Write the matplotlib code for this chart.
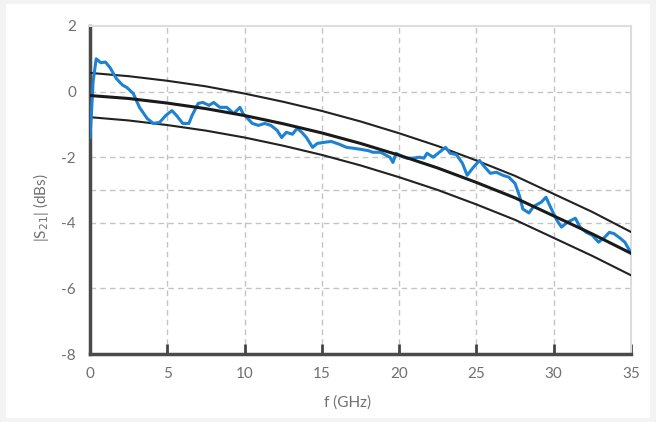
#!/usr/bin/env python3
"""|S21| vs frequency: measured trace with nominal curve and tolerance bounds."""

import matplotlib.pyplot as plt
from matplotlib.patches import Rectangle

# nominal model and +/- bounds, read every 2.5 GHz
f_model = [0, 2.5, 5, 7.5, 10, 12.5, 15, 17.5, 20, 22.5, 25, 27.5, 30, 32.5, 35]
s21_nominal = [-0.12, -0.21, -0.35, -0.52, -0.73, -0.98, -1.26, -1.58, -1.94, -2.33,
               -2.77, -3.24, -3.79, -4.34, -4.93]
s21_upper = [0.57, 0.47, 0.33, 0.16, -0.06, -0.31, -0.59, -0.91, -1.27, -1.66,
             -2.10, -2.57, -3.12, -3.67, -4.28]
s21_lower = [-0.78, -0.88, -1.02, -1.19, -1.40, -1.65, -1.93, -2.25, -2.61, -3.00,
             -3.44, -3.91, -4.46, -5.01, -5.60]

# measured trace
f_meas = [0.0, 0.1, 0.2, 0.4, 0.7, 1.0, 1.3, 1.7, 2.1, 2.4, 2.8, 3.2, 3.7, 4.1, 4.5,
          4.9, 5.3, 5.6, 6.0, 6.4, 6.6, 7.0, 7.3, 7.7, 8.0, 8.4, 8.85, 9.3, 9.7, 9.9,
          10.2, 10.5, 10.9, 11.3, 11.7, 12.1, 12.4, 12.7, 13.1, 13.4, 13.7, 14.0, 14.4,
          14.7, 15.1, 15.6, 16.1, 16.6, 17.1, 17.5, 18.0, 18.3, 18.8, 19.4, 19.6, 19.8,
          20.2, 20.5, 20.9, 21.3, 21.6, 21.8, 22.2, 22.6, 23.0, 23.3, 23.7, 24.1, 24.4,
          24.8, 25.2, 25.5, 25.9, 26.3, 26.7, 27.1, 27.5, 27.8, 28.0, 28.4, 28.7, 29.2,
          29.5, 29.8, 30.2, 30.5, 30.9, 31.4, 31.7, 32.1, 32.5, 32.9, 33.3, 33.6, 33.9,
          34.3, 34.6, 35.0]
s21_meas = [-1.40, -0.60, 0.30, 1.00, 0.88, 0.90, 0.73, 0.40, 0.20, 0.12, -0.06, -0.48,
            -0.82, -0.97, -0.94, -0.73, -0.58, -0.73, -0.97, -0.97, -0.73, -0.36, -0.33,
            -0.42, -0.33, -0.48, -0.48, -0.67, -0.48, -0.67, -0.82, -0.97, -1.03, -0.97,
            -1.03, -1.18, -1.40, -1.24, -1.30, -1.12, -1.24, -1.40, -1.70, -1.58, -1.55,
            -1.52, -1.60, -1.70, -1.73, -1.76, -1.80, -1.85, -1.85, -2.00, -2.16, -1.88,
            -1.98, -2.03, -2.03, -2.00, -2.03, -1.88, -2.00, -1.85, -1.70, -1.88, -1.92,
            -2.19, -2.55, -2.31, -2.10, -2.28, -2.49, -2.46, -2.55, -2.61, -2.80, -3.20,
            -3.58, -3.70, -3.50, -3.37, -3.22, -3.53, -3.92, -4.13, -3.98, -3.86, -4.13,
            -4.29, -4.38, -4.59, -4.44, -4.29, -4.33, -4.47, -4.59, -4.92]

x_ticks = [0, 5, 10, 15, 20, 25, 30, 35]
y_ticks = [-8, -6, -4, -2, 0, 2]
x_grid = [5, 10, 15, 20, 25, 30]
y_grid = [0, -2, -3, -4, -6]

plt.rcParams["font.family"] = ["Lato", "DejaVu Sans"]

fig = plt.figure(figsize=(6.56, 4.22), dpi=100, facecolor="#f3f3f3")
fig.patches.append(Rectangle((6 / 656, 4 / 422), 644 / 656, 414 / 422,
                             transform=fig.transFigure, facecolor="white",
                             edgecolor="none", zorder=-5))
ax = fig.add_axes([90 / 656, 1 - 354 / 422, 541 / 656, 328 / 422])
ax.set_facecolor("white")

for x in x_grid:
    ax.axvline(x, color="#c4c4c4", lw=1, ls=(0, (4, 3)), zorder=1)
for y in y_grid:
    ax.axhline(y, color="#c4c4c4", lw=1, ls=(0, (4, 3)), zorder=1)

ax.plot(f_model, s21_upper, color="#222222", lw=1.5, zorder=3)
ax.plot(f_model, s21_lower, color="#222222", lw=1.5, zorder=3)
ax.plot(f_meas, s21_meas, color="#1e82d2", lw=2.2, zorder=4)
ax.plot(f_model, s21_nominal, color="#1a1a1a", lw=2.2, zorder=5)

ax.set_xlim(0, 35)
ax.set_ylim(-8, 2)
ax.set_xticks(x_ticks)
ax.set_yticks(y_ticks)
ax.set_xticklabels([str(v) for v in x_ticks])
ax.set_yticklabels([str(v) for v in y_ticks])
ax.tick_params(axis="x", direction="in", length=7, width=2, color="#444444",
               labelsize=11, labelcolor="#707070", pad=9)
ax.tick_params(axis="y", length=0, labelsize=11, labelcolor="#707070", pad=10)

for side in ("left", "bottom"):
    ax.spines[side].set_color("#4a4a4a")
    ax.spines[side].set_linewidth(2.5)
for side in ("top", "right"):
    ax.spines[side].set_color("#dddddd")
    ax.spines[side].set_linewidth(1.5)

ax.set_xlabel("f (GHz)", fontsize=11, color="#707070")
ax.xaxis.set_label_coords(0.477, -0.125)
ax.set_ylabel("|S$_{21}$| (dBs)", fontsize=11, color="#707070")
ax.yaxis.set_label_coords(-0.072, 0.445)

fig.savefig("out.png", dpi=100, facecolor=fig.get_facecolor())
